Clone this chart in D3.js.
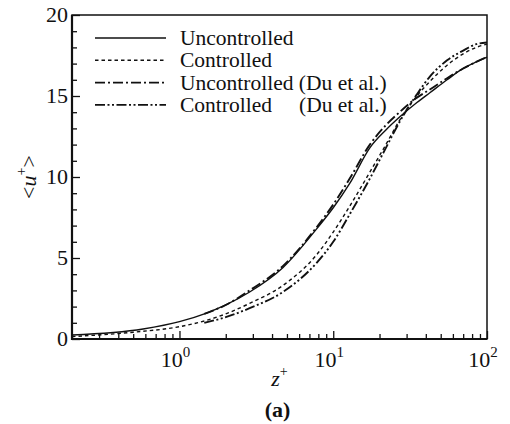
<!DOCTYPE html>
<meta charset="utf-8">
<script src="https://d3js.org/d3.v7.min.js"></script>
<style>
  body { margin: 0; background: #fff; }
</style>
<div id="chart"></div>
<script>
// wall-normal positions z+ and mean velocity <u+>
var zUnc  = [0.2, 0.58, 1, 1.5, 2, 2.86, 4.7, 7.8, 10, 12.8, 17.3, 22, 27, 35, 42.5, 55, 70, 85, 100];
var uUnc  = [0.25, 0.62, 1.07, 1.6, 2.1, 2.9, 4.4, 6.8, 8.1, 9.6, 11.8, 12.9, 13.7, 14.6, 15.2, 16.0, 16.7, 17.1, 17.4];
var zCon  = [0.2, 0.5, 1, 1.5, 2, 2.86, 4.7, 7.8, 10, 12.8, 17.3, 22, 27, 35, 42.5, 55, 70, 85, 100];
var uCon  = [0.15, 0.42, 0.76, 1.15, 1.55, 2.2, 3.3, 5.2, 6.6, 8.2, 10.3, 12.0, 13.5, 15.0, 15.9, 16.9, 17.6, 18.0, 18.2];
var zDuU  = [1.45, 2, 2.86, 4.7, 7.8, 10, 12.8, 17.3, 22, 27, 35, 42.5, 55, 70, 85, 100];
var uDuU  = [1.55, 2.1, 3.0, 4.5, 6.9, 8.3, 9.9, 12.0, 13.2, 14.0, 14.9, 15.4, 16.1, 16.7, 17.1, 17.4];
var zDuC  = [1.45, 2, 2.86, 4.7, 7.8, 10, 12.8, 17.3, 22, 27, 35, 42.5, 55, 70, 85, 100];
var uDuC  = [1.0, 1.35, 1.9, 2.9, 4.7, 6.0, 7.7, 9.9, 11.8, 13.4, 15.1, 16.2, 17.2, 17.8, 18.2, 18.3];

var legendLabels = ["Uncontrolled", "Controlled", "Uncontrolled (Du et al.)", "Controlled"];
var yTicks = [0, 5, 10, 15, 20];
var xMajor = [1, 10, 100];

var margin = {top: 15, right: 23, bottom: 85, left: 72},
    width = 510 - margin.left - margin.right,
    height = 424 - margin.top - margin.bottom;

var serif = "'Liberation Serif', 'DejaVu Serif', serif";

var svg = d3.select("#chart").append("svg")
    .attr("width", 510).attr("height", 424)
    .attr("font-family", serif)
    .style("font-family", serif)
  .append("g")
    .attr("transform", "translate(" + margin.left + "," + margin.top + ")");

var x = d3.scaleLog().domain([0.2, 100]).range([0, width]);
var y = d3.scaleLinear().domain([0, 20]).range([height, 0]);

// minor tick values
var xMinor = [];
[0.1, 1, 10].forEach(function(d) {
  for (var k = 2; k <= 9; k++) { var v = d * k; if (v >= 0.2 && v < 100) xMinor.push(v); }
});
var yMinor = d3.range(0, 21).filter(function(v) { return v % 5 !== 0; });

function styleAxis(g) {
  g.select(".domain").remove();
  g.selectAll("line").attr("stroke", "#111").attr("stroke-width", 1.3);
  g.selectAll("text").remove();
}

svg.append("g").attr("transform", "translate(0," + height + ")")
  .call(d3.axisBottom(x).tickValues(xMajor).tickSize(-8)).call(styleAxis);
svg.append("g").attr("transform", "translate(0," + height + ")")
  .call(d3.axisBottom(x).tickValues(xMinor).tickSize(-5)).call(styleAxis);
svg.append("g")
  .call(d3.axisLeft(y).tickValues(yTicks).tickSize(-8)).call(styleAxis);
svg.append("g")
  .call(d3.axisLeft(y).tickValues(yMinor).tickSize(-5)).call(styleAxis);

// frame
svg.append("rect").attr("width", width).attr("height", height)
  .attr("fill", "none").attr("stroke", "#111").attr("stroke-width", 1.5);
svg.append("path")
  .attr("d", "M0,0V" + height + "H" + width)
  .attr("fill", "none").attr("stroke", "#111").attr("stroke-width", 2.2);

// tick labels
svg.selectAll(".ylab").data(yTicks).enter().append("text")
  .attr("x", -4).attr("y", function(d) { return y(d); })
  .attr("dy", "0.34em").attr("text-anchor", "end").attr("fill", "#111")
  .style("font-size", "22px").text(function(d) { return d; });

var xl = svg.selectAll(".xlab").data(xMajor).enter().append("text")
  .attr("x", function(d) { return x(d) - 4; }).attr("y", height + 28)
  .attr("text-anchor", "middle").attr("fill", "#111").style("font-size", "22px");
xl.append("tspan").text("10");
xl.append("tspan").attr("dy", -10).style("font-size", "15px")
  .text(function(d) { return Math.round(Math.log10(d)); });

// curves
var line = d3.line()
  .x(function(d) { return x(d[0]); })
  .y(function(d) { return y(d[1]); })
  .curve(d3.curveMonotoneX);

var series = [
  {z: zUnc, u: uUnc, dash: null, w: 1.4},
  {z: zCon, u: uCon, dash: "3.5,3", w: 1.4},
  {z: zDuU, u: uDuU, dash: "10,3,2,3", w: 1.9},
  {z: zDuC, u: uDuC, dash: "10,2.5,2,2.5,2,2.5", w: 1.9}
];

svg.selectAll(".curve").data(series).enter().append("path")
  .attr("d", function(s) { return line(d3.zip(s.z, s.u)); })
  .attr("fill", "none").attr("stroke", "#111")
  .attr("stroke-width", function(s) { return s.w; })
  .attr("stroke-dasharray", function(s) { return s.dash; });

// legend
var lg = svg.append("g").attr("transform", "translate(23,23)");
series.forEach(function(s, i) {
  var yy = i * 22.3;
  lg.append("line").attr("x1", 0).attr("x2", 71).attr("y1", yy).attr("y2", yy)
    .attr("stroke", "#111").attr("stroke-width", s.w)
    .attr("stroke-dasharray", s.dash);
  lg.append("text").attr("x", 85).attr("y", yy).attr("dy", "0.33em").attr("fill", "#111")
    .style("font-size", "21.5px").text(legendLabels[i]);
});
lg.append("text").attr("x", 204).attr("y", 3 * 22.3).attr("dy", "0.33em").attr("fill", "#111")
  .style("font-size", "21.5px").text("(Du et al.)");

// axis titles
var xt = svg.append("text").attr("x", width / 2).attr("y", height + 47)
  .attr("text-anchor", "middle").attr("fill", "#111").style("font-size", "22px");
xt.append("tspan").style("font-style", "italic").text("z");
xt.append("tspan").attr("dy", -10).style("font-size", "14px").text("+");

var yt = svg.append("text")
  .attr("transform", "translate(-36," + (height / 2) + ") rotate(-90)")
  .attr("text-anchor", "middle").attr("fill", "#111").style("font-size", "22px");
yt.append("tspan").text("<");
yt.append("tspan").style("font-style", "italic").text("u");
yt.append("tspan").attr("dy", -10).style("font-size", "14px").text("+");
yt.append("tspan").attr("dy", 10).text(">");

svg.append("text").attr("x", width / 2 - 2).attr("y", height + 78)
  .attr("text-anchor", "middle").attr("fill", "#111").style("font-size", "22px")
  .style("font-weight", "bold").text("(a)");
</script>
